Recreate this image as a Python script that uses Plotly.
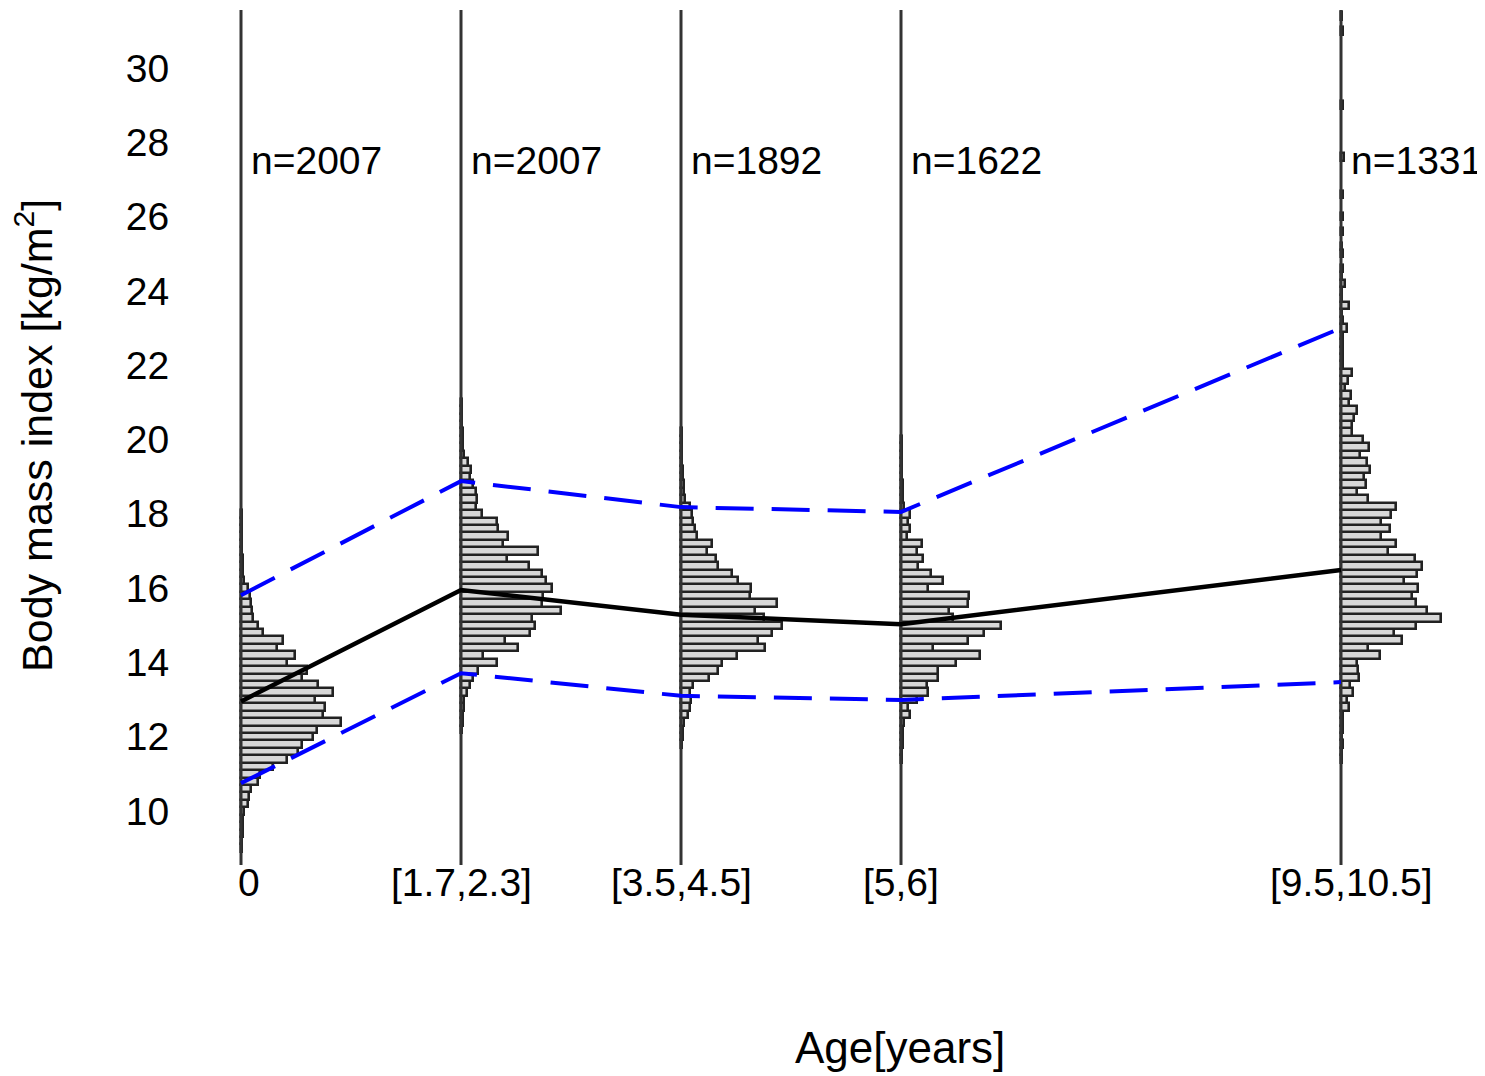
import numpy as np
import plotly.graph_objects as go

# ---------------- data ----------------
age_pos = [0, 1, 2, 3, 5]
age_labels = ["0", "[1.7,2.3]", "[3.5,4.5]", "[5,6]", "[9.5,10.5]"]
n_counts = [2007, 2007, 1892, 1622, 1331]

bmi_mean = [12.95, 15.95, 15.28, 15.03, 16.49]
bmi_upper = [15.81, 18.88, 18.18, 18.05, 23.0]
bmi_lower = [10.75, 13.71, 13.10, 12.99, 13.47]

bin_width = 0.2  # kg/m^2

# histogram bin-centre start values and relative frequencies (per age group)
hist0_start = 9.0
hist0_freq = [1, 1, 1.5, 1.5, 2, 3,
              7.3, 8, 10, 17.3, 19, 32.3, 45.7, 57.3, 60.7, 72.3, 75.7, 100, 82.3, 84, 74,
              92.3, 77.3, 60.7, 65.7, 45.7, 54, 35.7, 42.3, 22.3, 17.3, 12.3, 10.7, 10, 9, 7.3,
              3, 2, 1.5, 1.5, 1, 1, 1, 1, 1, 1]

hist1_start = 12.2
hist1_freq = [1, 1.5, 2, 2.5, 3,
              5.7, 9, 12.3, 16.7, 35.7, 22.3, 57.3, 44, 69, 74, 70.7, 100, 81.3, 82.3, 90.7, 84.7,
              81.3, 68, 45.7, 77.3, 42.3, 47.3, 36.7, 35.7, 20.7, 14.7, 15.7, 14.7, 12.3, 9, 10, 6.7,
              3, 2, 1.5, 1.5, 1, 1, 1, 1]

hist2_start = 11.8
hist2_freq = [1, 1.5, 2, 3,
              6.7, 9, 10, 9, 12.3, 28, 36.7, 40.7, 55.7, 84, 77.3, 90.7, 100.7, 83.3, 74, 95.7,
              69, 70, 57.3, 50.7, 37.3, 34.7, 25.7, 31.3, 15.7, 14, 12.3, 10.7, 9,
              4, 3, 2.5, 2, 1.5, 1, 1, 1, 1, 1]

hist3_start = 11.4
hist3_freq = [1, 1, 1.5, 1.5, 2,
              3.3, 9, 7.3, 15.7, 27.3, 25.7, 36.7, 36.7, 54.7, 79, 32.3, 66.7, 83.3, 100, 52.3,
              48, 66.7, 68, 26.7, 42.3, 30, 16.7, 22.3, 15.7, 21.3, 5.7, 9, 6.7, 9,
              3, 2, 1.5, 1.5, 1, 1, 1, 1, 1, 1]

hist4_start = 11.4
hist4_freq = [1, 1, 1.5, 1, 1.5, 1.5, 2,
              8, 5.7, 12.3, 9, 18, 16.7, 15.7, 39, 26.7, 60.7, 53.3, 74.7, 100, 85.7, 74.7, 71.3,
              76.7, 63.3, 75.7, 81.3, 74, 47.3, 54.7, 40, 49, 40, 50, 54.7, 26.7, 15.7, 24.7, 23.3,
              29, 25.7, 19, 28, 22.3, 11.3, 10.7, 13.3, 15.7, 8, 10, 4, 6.7, 10.7,
              2, 2, 1.5, 2, 1.5, 5.7, 1.5, 1, 8, 1, 1, 4,
              1, 2, 0, 2, 1, 0, 1.5, 0, 2, 0, 0, 2, 0, 0, 0, 0, 3, 0, 0, 0,
              0, 0, 0, 2, 0, 0, 0, 0, 0, 0, 0, 0, 0, 1.5, 0, 1]

hist_starts = [hist0_start, hist1_start, hist2_start, hist3_start, hist4_start]
hist_freqs = [hist0_freq, hist1_freq, hist2_freq, hist3_freq, hist4_freq]

y_ticks = [10, 12, 14, 16, 18, 20, 22, 24, 26, 28, 30]

# ---------------- styling constants ----------------
bar_scale = 1 / 220.0          # relative frequency -> age-axis units
line_ymin, line_ymax = 8.547, 31.56
FONT = "Liberation Sans, Arial, Helvetica, sans-serif"
label_xshift = [8, 0, 0, 0, 10]

fig = go.Figure()

# histograms
for pos, start, freq in zip(age_pos, hist_starts, hist_freqs):
    f = np.asarray(freq, dtype=float)
    centers = start + bin_width * np.arange(len(f))
    m = f > 0
    fig.add_trace(go.Bar(
        orientation="h", y=centers[m], x=f[m] * bar_scale, base=pos,
        width=bin_width,
        marker=dict(color="#d8d8d8", line=dict(color="#222222", width=2.6)),
        showlegend=False, hoverinfo="skip",
    ))

# vertical axes for each age group
for pos in age_pos:
    fig.add_trace(go.Scatter(
        x=[pos, pos], y=[line_ymin, line_ymax], mode="lines",
        line=dict(color="#333333", width=3), showlegend=False, hoverinfo="skip",
    ))

# mean line
fig.add_trace(go.Scatter(x=age_pos, y=bmi_mean, mode="lines",
                         line=dict(color="black", width=4.5), showlegend=False))
# percentile lines
for series in (bmi_upper, bmi_lower):
    fig.add_trace(go.Scatter(x=age_pos, y=series, mode="lines",
                             line=dict(color="#0000ff", width=4, dash="38px,18px"),
                             showlegend=False))

annotations = []
for pos, n in zip(age_pos, n_counts):
    annotations.append(dict(x=pos, y=27.52, xref="x", yref="y", text=f"n={n}",
                            showarrow=False, xanchor="left", yanchor="middle",
                            xshift=8, font=dict(size=39, color="black", family=FONT)))
for pos, lab, dx in zip(age_pos, age_labels, label_xshift):
    annotations.append(dict(x=pos, y=-0.0163, xref="x", yref="paper", text=lab,
                            showarrow=False, xanchor="center", yanchor="middle",
                            xshift=dx, font=dict(size=39, color="black", family=FONT)))
annotations.append(dict(x=0.5504, y=-0.2093, xref="paper", yref="paper", text="Age[years]",
                        showarrow=False, xanchor="center", yanchor="middle",
                        font=dict(size=44, color="black", family=FONT)))
annotations.append(dict(x=-0.121, y=0.5035, xref="paper", yref="paper",
                        text="Body mass index [kg/m<sup>2</sup>]", textangle=-90,
                        showarrow=False, xanchor="center", yanchor="middle",
                        font=dict(size=43, color="black", family=FONT)))

fig.update_layout(
    width=1477, height=1068,
    margin=dict(l=182, r=5, t=0, b=208),
    plot_bgcolor="white", paper_bgcolor="white",
    barmode="overlay", bargap=0,
    annotations=annotations,
    font=dict(family=FONT, color="black"),
)
fig.update_xaxes(range=[-0.2318, 5.6318], showgrid=False, zeroline=False,
                 showticklabels=False, showline=False, ticks="")
fig.update_yaxes(range=[8.466, 31.615], tickvals=y_ticks, showgrid=False, zeroline=False,
                 showline=False, ticks="outside", ticklen=12, tickcolor="rgba(0,0,0,0)",
                 tickfont=dict(size=39, color="black", family=FONT))

fig.write_html("out.html")
